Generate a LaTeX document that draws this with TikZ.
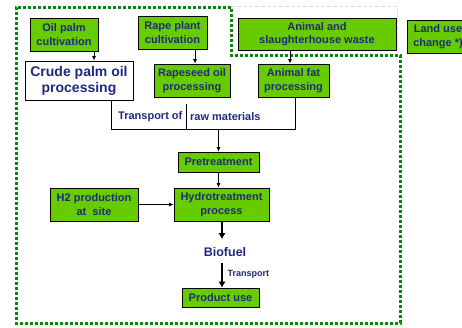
\documentclass[tikz,border=0pt]{standalone}
\usepackage{fontspec}
\setmainfont{Liberation Sans}
\usetikzlibrary{arrows.meta}
\definecolor{boxgreen}{HTML}{66CC00}
\definecolor{navy}{HTML}{1F2A7F}
\definecolor{borderg}{HTML}{0A870A}
\definecolor{paleg}{HTML}{CDE8CD}
\begin{document}
\begin{tikzpicture}[x=1pt,y=-1pt,
  box/.style={draw=black, line width=0.9pt, fill=boxgreen, text=navy,
    font=\bfseries\fontsize{11}{13.5}\selectfont, align=center, inner sep=0pt},
  whitebox/.style={box, fill=white, font=\bfseries\fontsize{14}{16}\selectfont},
  label/.style={text=navy, font=\bfseries\fontsize{11}{13}\selectfont, inner sep=0pt},
  flow/.style={line width=0.8pt, -{Latex[length=4.5pt,width=4pt]}},
  conn/.style={line width=0.8pt},
  bigflow/.style={line width=2.8pt, -{Latex[length=6pt,width=7.5pt]}},
  boundary/.style={draw=borderg, line width=3pt, dash pattern=on 3.2pt off 1.8pt},
  faint/.style={draw=paleg, line width=0.8pt, dash pattern=on 4pt off 2pt}]
\clip (0,0) rectangle (462,327);
\fill[white] (0,0) rectangle (462,327);

% system boundaries
\draw[faint] (231,6) -- (397,6) -- (397,50);
\draw[boundary] (231,7) -- (16,7) -- (16,323) -- (400,323) -- (400,55) -- (231,55) -- cycle;

% feedstock and processing boxes
\node[box, minimum width=68pt, minimum height=33pt] (oilpalm) at (64,34.5) {Oil palm\\cultivation};
\node[whitebox, minimum width=108pt, minimum height=39pt] (crude) at (79,80.5) {Crude palm oil\\processing};
\node[box, minimum width=69pt, minimum height=33pt] (rape) at (172.5,32.5) {Rape plant\\cultivation};
\node[box, minimum width=76pt, minimum height=33pt] (rapeseed) at (192,80.5) {Rapeseed oil\\processing};
\node[box, minimum width=158pt, minimum height=32pt] (waste) at (317,34) {Animal and\\slaughterhouse waste};
\node[box, minimum width=62pt, minimum height=33pt] (landuse) at (438,36.5) {Land use\\change *)};
\node[box, minimum width=71pt, minimum height=33pt] (animalfat) at (293.5,80.5) {Animal fat\\processing};

% conversion chain
\node[box, minimum width=81pt, minimum height=20pt] (pretreat) at (218.5,162) {Pretreatment};
\node[box, minimum width=95pt, minimum height=33pt] (hydro) at (221.5,204.5) {Hydrotreatment\\process};
\node[box, minimum width=88pt, minimum height=33pt] (htwo) at (94,204.5) {H2 production\\at\ \ site};
\node[text=navy, font=\bfseries\fontsize{12.5}{14}\selectfont, inner sep=0pt] (biofuel) at (225,252) {Biofuel};
\node[box, minimum width=77pt, minimum height=19pt] (product) at (220.5,297.5) {Product use};

% transport of raw materials
\node[label, anchor=west] (trA) at (118,117) {Transport of};
\node[label, anchor=west] (trB) at (190,117) {raw materials};
\coordinate (jl) at (111,129);
\coordinate (jr) at (295,129);
\coordinate (jm) at (218.5,129);
\coordinate (tick) at (186,104);

% ends of the heavy arrows around the biofuel label
\coordinate (fuelin) at (222,239);
\coordinate (fuelout) at (222,263);

% connectors
\draw[flow] (oilpalm.south -| 94,0) -- (crude.north -| 94,0);
\draw[flow] (rape.south -| 195,0) -- (rapeseed.north -| 195,0);
\draw[flow] (waste.south -| 290,0) -- (animalfat.north -| 290,0);
\draw[conn] (crude.south -| jl) -- (jl) -- (jr) -- (animalfat.south -| jr);
\draw[conn] (tick) -- (tick |- jl);
\draw[flow] (jm) -- (pretreat.north);
\draw[flow] (pretreat.south) -- (pretreat.south |- hydro.north);
\draw[flow] (htwo.east) -- (hydro.west);
\draw[bigflow] (hydro.south -| fuelin) -- (fuelin);
\draw[bigflow] (fuelout) -- (product.north -| fuelout);
\node[text=navy, font=\bfseries\fontsize{9}{10}\selectfont, inner sep=0pt, anchor=west] (transport) at (227.5,274) {Transport};
\end{tikzpicture}
\end{document}
